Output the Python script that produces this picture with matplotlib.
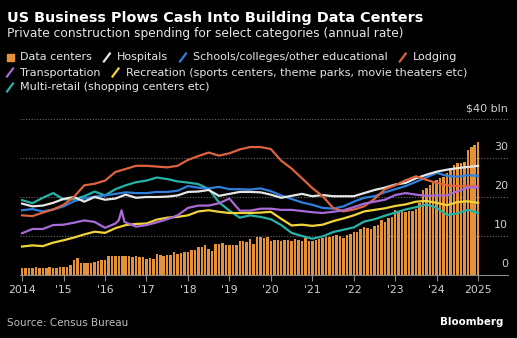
import matplotlib.pyplot as plt
import numpy as np
from matplotlib.lines import Line2D
from matplotlib.patches import Rectangle

# Data centers, monthly, Jan 2014 - Jan 2025 ($ bln, annual rate)
data_centers = [
    1.8, 1.9, 1.8, 1.9, 2.0, 1.9, 1.8, 1.9, 2.0, 1.9, 1.9, 2.0,       # 2014
    2.0, 2.1, 2.6, 3.8, 4.3, 3.1, 3.1, 3.2, 3.1, 3.3, 3.5, 3.8,       # 2015
    3.8, 4.8, 4.9, 4.9, 5.0, 4.8, 5.0, 4.9, 4.7, 4.8, 4.7, 4.6,       # 2016
    4.2, 4.3, 4.2, 5.3, 5.1, 5.0, 5.1, 5.2, 5.9, 5.5, 5.6, 5.9,       # 2017
    6.0, 6.3, 6.5, 7.1, 7.3, 7.6, 6.7, 6.1, 8.0, 8.0, 8.2, 7.8,       # 2018
    7.6, 7.6, 7.7, 8.8, 8.8, 8.4, 9.2, 8.0, 9.7, 9.7, 9.6, 9.7,       # 2019
    8.8, 9.0, 8.9, 8.8, 8.9, 9.0, 8.8, 9.2, 9.0, 8.8, 9.5, 8.8,       # 2020
    8.8, 9.0, 9.2, 9.5, 9.7, 9.8, 10.0, 10.2, 9.9, 9.6, 10.3, 10.6,   # 2021
    11.1, 11.0, 11.8, 12.3, 12.0, 11.9, 12.5, 12.8, 14.0, 13.6, 14.5, 14.9,  # 2022
    16.6, 16.2, 16.4, 16.2, 16.3, 16.5, 17.0, 18.4, 21.8, 22.2, 23.1, 23.5,  # 2023
    24.4, 24.8, 25.2, 26.1, 27.4, 28.2, 28.6, 28.8, 29.1, 32.0, 32.9, 33.3,  # 2024
    34.0,                                                              # 2025
]

# quarterly readings for the line series, 2014.0 - 2025.0
quarters = [2014 + q / 4 for q in range(45)]

hospitals = [
    18.3, 17.6, 17.8, 18.5, 19.5, 20.0, 18.8, 20.0, 19.3, 19.6, 20.6, 19.8,
    20.0, 20.0, 20.1, 20.4, 21.3, 21.4, 21.8, 20.3, 20.8, 21.3, 21.3, 21.2,
    20.6, 19.8, 20.3, 20.8, 20.2, 20.5, 20.2, 20.2, 20.2, 21.0, 21.8, 22.4,
    23.2, 23.6, 24.8, 25.7, 26.5, 27.0, 27.4, 27.7, 28.0,
]
schools = [
    16.6, 16.9, 16.3, 16.8, 17.6, 18.9, 19.6, 20.1, 20.4, 20.8, 21.2, 21.0,
    21.0, 21.3, 21.3, 21.6, 22.8, 22.4, 22.2, 22.6, 22.0, 22.0, 21.9, 22.2,
    21.5, 20.4, 19.5, 18.6, 18.0, 17.2, 17.0, 17.6, 18.8, 19.8, 20.2, 21.2,
    22.0, 22.8, 23.9, 25.0, 26.2, 25.4, 25.2, 25.6, 25.4,
]
lodging = [
    15.3, 15.1, 16.0, 16.8, 18.0, 20.0, 23.0, 23.4, 24.2, 26.4, 27.2, 28.0,
    28.0, 27.8, 27.6, 28.0, 29.5, 30.5, 31.4, 30.6, 31.2, 32.2, 32.8, 32.8,
    32.3, 29.3, 27.3, 24.8, 22.3, 20.2, 17.2, 16.3, 16.8, 17.6, 19.5, 22.0,
    23.0, 24.3, 25.3, 24.4, 23.6, 23.0, 22.8, 22.8, 22.8,
]
recreation = [
    7.3, 7.6, 7.4, 8.3, 8.9, 9.6, 10.4, 11.1, 10.8, 12.0, 12.8, 13.1,
    13.2, 14.2, 14.7, 14.9, 15.3, 16.3, 16.6, 16.2, 15.9, 15.9, 15.9, 16.0,
    16.2, 14.4, 12.7, 12.9, 12.6, 12.9, 13.8, 14.5, 15.3, 16.3, 16.7, 17.1,
    17.7, 18.1, 18.8, 19.0, 18.5, 17.9, 18.7, 18.9, 18.5,
]
multi_retail = [
    19.2, 18.4, 19.8, 21.0, 19.4, 19.4, 20.2, 21.4, 20.4, 22.0, 23.0, 23.8,
    24.2, 25.0, 24.6, 24.0, 23.7, 23.3, 22.1, 18.6, 16.5, 14.7, 15.3, 14.9,
    14.3, 12.8, 10.8, 10.0, 9.3, 9.9, 11.0, 11.6, 12.2, 13.7, 14.3, 15.2,
    16.0, 16.8, 17.4, 18.1, 17.2, 15.4, 15.8, 16.7, 15.9,
]
# transportation has a short spike in 2016, so it keeps its own dates
transport_years = [
    2014.0, 2014.25, 2014.5, 2014.75, 2015.0, 2015.25, 2015.5, 2015.75,
    2016.0, 2016.25, 2016.33, 2016.4, 2016.47, 2016.75,
    2017.0, 2017.25, 2017.5, 2017.75, 2018.0, 2018.25, 2018.5, 2018.75,
    2019.0, 2019.25, 2019.5, 2019.75, 2020.0, 2020.25, 2020.5, 2020.75,
    2021.0, 2021.25, 2021.5, 2021.75, 2022.0, 2022.25, 2022.5, 2022.75,
    2023.0, 2023.25, 2023.5, 2023.75, 2024.0, 2024.25, 2024.5, 2024.75, 2025.0,
]
transportation = [
    10.7, 11.8, 11.8, 12.8, 12.9, 13.4, 14.0, 13.6,
    12.1, 13.2, 14.0, 16.6, 13.6, 12.4,
    12.8, 13.5, 14.3, 15.3, 17.2, 17.8, 17.8, 18.4,
    19.6, 16.5, 16.5, 17.0, 17.0, 16.7, 16.7, 16.4,
    16.1, 15.9, 16.2, 16.6, 17.4, 18.3, 18.8, 19.3,
    20.5, 21.0, 20.6, 20.3, 20.4, 20.4, 21.5, 22.4, 22.5,
]

year_ticks = list(range(2014, 2026))
year_labels = ["2014", "'15", "'16", "'17", "'18", "'19", "'20", "'21",
               "'22", "'23", "'24", "2025"]
y_ticks = [0, 10, 20, 30, 40]
y_labels = ["0", "10", "20", "30", "$40 bln"]

c_dc = "#e3923a"
c_hosp = "#e6e6e6"
c_school = "#2f7fdc"
c_lodge = "#dd633f"
c_trans = "#a86ad8"
c_rec = "#f0d43a"
c_retail = "#27b2a8"
grey = "#cfcfcf"

W, H = 517, 338
fig = plt.figure(figsize=(W / 100, H / 100), dpi=100, facecolor="black")
ax = fig.add_axes([20 / W, 1 - 275 / H, (508 - 20) / W, (275 - 119) / H])
ax.set_facecolor("black")

months = [2014 + i / 12 for i in range(len(data_centers))]
ax.bar(months, data_centers, width=0.72 / 12, color=c_dc, zorder=2)

for ys, color in [(multi_retail, c_retail), (recreation, c_rec),
                  (schools, c_school), (hospitals, c_hosp), (lodging, c_lodge)]:
    ax.plot(quarters, ys, color=color, lw=1.6, zorder=3, solid_joinstyle="round")
ax.plot(transport_years, transportation, color=c_trans, lw=1.6, zorder=3)

ax.set_xlim(2013.95, 2014 + (508 - 20) / 41.64)
ax.set_ylim(0, 40)
for v in y_ticks[1:]:
    ax.axhline(v, color="#6a6a6a", lw=0.8, ls=(0, (1, 1.5)), zorder=1)
for v, lab in zip(y_ticks, y_labels):
    ax.annotate(lab, (1, v), xycoords=("axes fraction", "data"), xytext=(0, 4),
                textcoords="offset points", ha="right", va="bottom",
                color=grey, fontsize=8)

for s in ["top", "right", "left"]:
    ax.spines[s].set_visible(False)
ax.spines["bottom"].set_color("#8a8a8a")
ax.set_yticks([])
ax.set_xticks(year_ticks)
ax.set_xticklabels(year_labels)
ax.tick_params(axis="x", colors="#8a8a8a", labelcolor=grey, length=4,
               labelsize=7.8, pad=3)

fig.text(7 / W, 1 - 18 / H, "US Business Plows Cash Into Building Data Centers",
         color="white", fontsize=10.4, fontweight="bold", va="center")
fig.text(7 / W, 1 - 34 / H,
         "Private construction spending for select categories (annual rate)",
         color="#e6e6e6", fontsize=8.8, va="center")

fig.canvas.draw()
renderer = fig.canvas.get_renderer()

legend_rows = [
    [("Data centers", c_dc, "box"), ("Hospitals", c_hosp, "line"),
     ("Schools/colleges/other educational", c_school, "line"), ("Lodging", c_lodge, "line")],
    [("Transportation", c_trans, "line"),
     ("Recreation (sports centers, theme parks, movie theaters etc)", c_rec, "line")],
    [("Multi-retail (shopping centers etc)", c_retail, "line")],
]
for row, py in zip(legend_rows, [57.5, 72.5, 87.5]):
    x = 7
    for label, color, kind in row:
        if kind == "box":
            fig.patches.append(Rectangle(((x) / W, 1 - (py + 3.5) / H), 7 / W, 7 / H,
                                         transform=fig.transFigure, color=color))
        else:
            fig.lines.append(Line2D([x / W, (x + 6) / W], [1 - (py + 4) / H, 1 - (py - 4) / H],
                                    transform=fig.transFigure, color=color, lw=1.6))
        t = fig.text((x + 13) / W, 1 - py / H, label, color="#e6e6e6",
                     fontsize=8.0, va="center")
        w = t.get_window_extent(renderer=renderer).width
        x = x + 13 + w + 12

fig.text(7 / W, 1 - 323 / H, "Source: Census Bureau", color="#bdbdbd",
         fontsize=7.5, va="center")
fig.text(503 / W, 1 - 322 / H, "Bloomberg", color="white", fontsize=7.4,
         fontweight="bold", va="center", ha="right")

fig.savefig("out.png", dpi=100, facecolor="black")
